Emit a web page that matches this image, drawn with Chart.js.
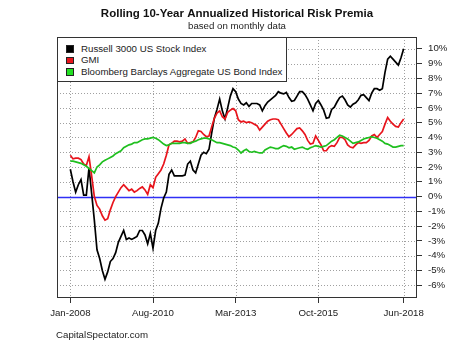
<!DOCTYPE html>
<html>
<head>
<meta charset="utf-8">
<script src="https://cdn.jsdelivr.net/npm/chart.js@4/dist/chart.umd.min.js"></script>
<style>
  html, body { margin: 0; padding: 0; background: #fff; }
  #wrap { position: relative; width: 474px; height: 355px; font-family: "Liberation Sans", Arial, sans-serif; color: #222; }
  #legend { position: absolute; left: 57px; top: 37px; width: 230px; height: 45px; box-sizing: border-box;
            border: 1px solid #333; background: #fff; padding-top: 4.5px; }
  .row { position: relative; height: 11.7px; line-height: 11.7px; font-size: 9.7px; padding-left: 23px; white-space: nowrap; }
  .sw { position: absolute; left: 8px; top: 2.6px; width: 5.5px; height: 5.5px; border: 0.8px solid #222; }
  #footer { position: absolute; left: 56px; top: 329px; font-size: 9.7px; line-height: 12px; color: #222; }
</style>
</head>
<body>
<div id="wrap">
  <canvas id="c" width="474" height="355"></canvas>
  <div id="legend"></div>
  <div id="footer">CapitalSpectator.com</div>
</div>
<script>
// ---- data (monthly, Jan-2008 .. Jun-2018, index 0..125), values in % ----
const russell3000 = [
  1.85, 1.0, 0.3, 0.8, 1.15, 0.1, 0.1, 1.95, 0.2, -1.6,
  -3.6, -4.2, -5.0, -5.6, -5.1, -4.4, -4.2, -3.8, -3.1, -2.7,
  -2.3, -2.9, -2.8, -2.9, -2.8, -2.7, -2.3, -2.3, -2.6, -3.2,
  -2.5, -3.5, -2.3, -1.8, -0.8, -0.1, 0.3, 1.5, 1.8, 1.4,
  1.4, 1.4, 1.4, 1.45, 2.2, 2.4, 1.8, 1.6, 2.2, 2.8,
  3.0, 2.9, 3.2, 4.3, 5.3, 5.9, 6.6, 5.8, 5.25, 6.0,
  6.8, 7.3, 7.1, 6.6, 6.3, 6.2, 6.35, 6.1, 6.3, 6.3,
  6.3, 6.2, 5.8, 6.15, 6.4, 6.55, 6.7, 6.85, 7.1, 7.0,
  6.95, 7.05, 6.7, 6.45, 6.5, 6.8, 7.1, 7.1, 6.9, 6.6,
  6.2, 5.8, 6.3, 6.5, 6.2, 5.85, 5.3, 5.35, 5.9, 6.05,
  6.4, 6.7, 6.8, 6.55, 6.2, 6.05, 6.25, 6.35, 6.55, 6.85,
  6.9, 6.7, 6.5, 7.0, 7.3, 7.3, 7.2, 7.3, 8.4, 9.3,
  9.5, 9.3, 9.1, 8.9, 9.4, 10.0
];
const gmi = [
  2.8, 2.55, 2.6, 2.6, 2.5, 2.2, 2.1, 2.7, 1.4, 0.0,
  -0.6, -0.85, -1.3, -1.6, -1.5, -0.9, -0.4, 0.0, 0.3, 0.6,
  0.8, 0.6, 0.4, 0.5, 0.3, 0.4, 0.55, 0.65, 0.45, 0.15,
  0.8, 0.6, 1.3, 1.55, 1.8, 2.2, 2.8, 3.5, 3.6, 3.75,
  3.75, 3.7, 3.75, 3.9, 3.6, 3.65, 3.7, 4.0, 4.45, 4.4,
  4.2, 4.05, 4.1, 4.7, 5.3, 5.65, 5.8, 5.4, 5.25, 5.7,
  5.85, 5.95, 5.8, 5.2, 5.05, 5.1, 5.0, 5.05, 5.0, 4.9,
  4.8, 4.5, 4.7, 4.9, 5.1, 5.2, 5.25, 5.25, 5.2, 4.9,
  4.6, 4.3, 4.05, 4.2, 4.4, 4.6, 4.65, 4.45, 4.2, 3.8,
  3.55, 3.6, 4.1, 3.8, 3.5, 3.1, 3.1, 3.35, 3.45, 3.4,
  3.65, 4.0, 4.0, 3.85, 3.5, 3.35, 3.3, 3.5, 3.65, 3.6,
  3.65, 3.65, 3.8, 4.1, 4.2, 4.0, 4.2, 4.4, 4.9, 5.35,
  5.1, 4.9, 4.75, 4.7, 5.0, 5.25
];
const bondIndex = [
  2.4, 2.4, 2.35, 2.3, 2.25, 2.15, 2.05, 1.9, 1.75, 1.6,
  2.0, 2.15, 2.35, 2.45, 2.55, 2.65, 2.75, 2.9, 3.0, 3.1,
  3.3, 3.4, 3.5, 3.55, 3.65, 3.65, 3.75, 3.85, 3.9, 3.9,
  3.95, 4.0, 3.95, 3.85, 3.7, 3.55, 3.45, 3.5, 3.6, 3.6,
  3.6, 3.6, 3.65, 3.65, 3.6, 3.6, 3.7, 3.75, 3.85, 3.9,
  3.95, 3.95, 3.9, 3.85, 3.75, 3.65, 3.65, 3.6, 3.55, 3.5,
  3.45, 3.35, 3.3, 3.15, 2.95, 3.1, 3.2, 3.05, 3.0, 3.05,
  3.0, 2.95, 2.95, 3.15, 3.25, 3.35, 3.3, 3.25, 3.25, 3.35,
  3.45, 3.4, 3.3, 3.35, 3.2, 3.25, 3.3, 3.35, 3.25, 3.2,
  3.3, 3.37, 3.45, 3.4, 3.35, 3.4, 3.45, 3.6, 3.75, 3.85,
  4.0, 4.15, 4.1, 4.0, 3.9, 3.75, 3.6, 3.65, 3.7, 3.8,
  3.9, 3.95, 4.0, 4.05, 4.0, 3.95, 3.85, 3.75, 3.6, 3.55,
  3.45, 3.35, 3.35, 3.4, 3.45, 3.45
];
const seriesNames = ["Russell 3000 US Stock Index", "GMI", "Bloomberg Barclays Aggregate US Bond Index"];
const seriesColors = ["#000000", "#e8141c", "#1fbf1f"];
const legendFill = ["#000000", "#e8141c", "#22e022"];
const xTickMonthIndex = [0, 31, 62, 93, 125];
const xTickLabels = ["Jan-2008", "Aug-2010", "Mar-2013", "Oct-2015", "Jun-2018"];
const yTicks = [-6, -5, -4, -3, -2, -1, 0, 1, 2, 3, 4, 5, 6, 7, 8, 9, 10];
const zeroLine = 0;

const FONT = '"Liberation Sans", Arial, sans-serif';
const toPoints = arr => arr.map((v, i) => ({ x: i, y: v }));

// HTML legend (real text)
const lg = document.getElementById('legend');
seriesNames.forEach((n, k) => {
  const r = document.createElement('div'); r.className = 'row';
  const s = document.createElement('span'); s.className = 'sw'; s.style.background = legendFill[k];
  r.appendChild(s); r.appendChild(document.createTextNode(n)); lg.appendChild(r);
});

const frameGridZero = {
  id: 'frameGridZero',
  beforeDatasetsDraw(chart) {
    const { ctx, chartArea: a, scales } = chart;
    ctx.save();
    // dotted grid at the scales' ticks
    ctx.strokeStyle = '#a0a0a0'; ctx.lineWidth = 1; ctx.setLineDash([1, 2]);
    scales.y.ticks.forEach(t => {
      const y = Math.round(scales.y.getPixelForValue(t.value)) + 0.5;
      ctx.beginPath(); ctx.moveTo(a.left, y); ctx.lineTo(a.right, y); ctx.stroke();
    });
    scales.x.ticks.forEach(t => {
      const x = Math.round(scales.x.getPixelForValue(t.value)) + 0.5;
      ctx.beginPath(); ctx.moveTo(x, a.top); ctx.lineTo(x, a.bottom); ctx.stroke();
    });
    ctx.setLineDash([]);
    // horizontal reference line at zero
    const y0 = Math.round(scales.y.getPixelForValue(zeroLine)) + 0.5;
    ctx.strokeStyle = '#2f2ff5'; ctx.lineWidth = 1.5;
    ctx.beginPath(); ctx.moveTo(a.left, y0); ctx.lineTo(a.right, y0); ctx.stroke();
    ctx.restore();
  },
  afterDraw(chart) {
    const { ctx, chartArea: a } = chart;
    ctx.save();
    ctx.strokeStyle = '#333'; ctx.lineWidth = 1;
    ctx.strokeRect(Math.round(a.left) + 0.5, Math.round(a.top) + 0.5,
                   Math.round(a.right - a.left) - 1, Math.round(a.bottom - a.top));
    ctx.restore();
  }
};

new Chart(document.getElementById('c'), {
  type: 'line',
  data: {
    datasets: [
      { label: seriesNames[0], data: toPoints(russell3000), borderColor: seriesColors[0], order: 3 },
      { label: seriesNames[1], data: toPoints(gmi), borderColor: seriesColors[1], order: 2 },
      { label: seriesNames[2], data: toPoints(bondIndex), borderColor: seriesColors[2], order: 1 }
    ]
  },
  options: {
    responsive: false,
    animation: false,
    devicePixelRatio: 1,
    layout: { padding: 0 },
    elements: {
      line: { borderWidth: 1.7, tension: 0, fill: false },
      point: { radius: 0, hoverRadius: 0 }
    },
    plugins: {
      legend: { display: false },
      tooltip: { enabled: false },
      title: {
        display: true, text: 'Rolling 10-Year Annualized Historical Risk Premia',
        color: '#111', font: { family: FONT, size: 11.5, weight: 'bold' },
        padding: { top: 6.5, bottom: 0 }
      },
      subtitle: {
        display: true, text: 'based on monthly data',
        color: '#222', font: { family: FONT, size: 9.7, weight: 'normal' },
        padding: { top: 0, bottom: 5.06 }
      }
    },
    scales: {
      x: {
        type: 'linear', position: 'bottom', min: -5, max: 130,
        afterBuildTicks: s => { s.ticks = xTickMonthIndex.map(v => ({ value: v })); },
        afterFit: s => { s.height = 58; },
        ticks: {
          autoSkip: false, maxRotation: 0, minRotation: 0, padding: 5,
          color: '#222', font: { family: FONT, size: 9.7 },
          callback: v => { const k = xTickMonthIndex.indexOf(v); return k >= 0 ? xTickLabels[k] : ''; }
        },
        grid: { display: true, drawOnChartArea: false, drawTicks: true, tickLength: 6, tickColor: '#333', tickWidth: 1 },
        border: { display: false }
      },
      y: {
        type: 'linear', position: 'right', min: -6.8, max: 10.8,
        afterBuildTicks: s => { s.ticks = yTicks.map(v => ({ value: v })); },
        afterFit: s => { s.width = 57; },
        ticks: {
          autoSkip: false, padding: 6, color: '#222', font: { family: FONT, size: 9.7 },
          callback: v => v + '%'
        },
        grid: { display: true, drawOnChartArea: false, drawTicks: true, tickLength: 5, tickColor: '#333', tickWidth: 1 },
        border: { display: false }
      },
      yLeftSpace: {
        type: 'linear', position: 'left', display: true,
        afterFit: s => { s.width = 57; },
        ticks: { display: false },
        grid: { display: false, drawTicks: false },
        border: { display: false }
      }
    }
  },
  plugins: [frameGridZero]
});
</script>
</body>
</html>
